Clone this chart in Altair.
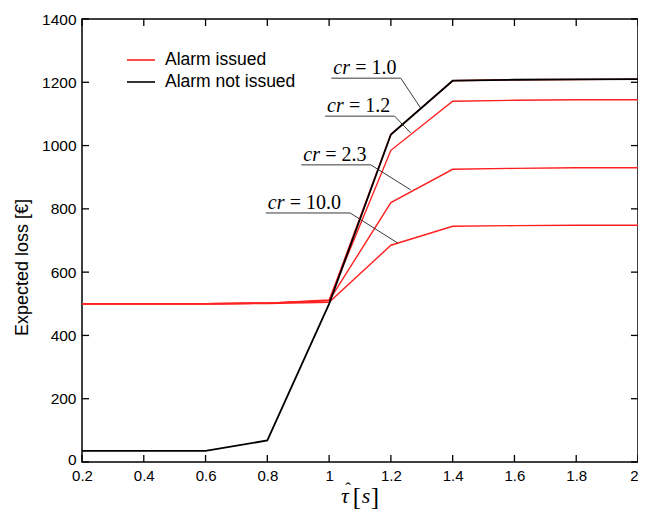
import altair as alt
import pandas as pd

# ---- data ----
tau = [0.2, 0.4, 0.6, 0.8, 1.0, 1.2, 1.4, 1.6, 1.8, 2.0]
loss_not_issued = [35, 35, 35, 68, 500, 1035, 1205, 1208, 1209, 1210]
loss_cr_1_0 = [500, 500, 500, 502, 510, 1035, 1205, 1208, 1209, 1210]
loss_cr_1_2 = [500, 500, 500, 502, 512, 985, 1140, 1143, 1145, 1145]
loss_cr_2_3 = [500, 500, 500, 502, 510, 820, 925, 928, 930, 930]
loss_cr_10_0 = [500, 500, 500, 501, 505, 685, 745, 747, 748, 748]

series_labels = ["Alarm issued", "Alarm not issued"]
series_colors = ["#ff2020", "#000000"]

cr_labels = ["= 1.0", "= 1.2", "= 2.3", "= 10.0"]
# annotation geometry in data units (underline start/end, level, target point)
ann_x0 = [1.007, 0.987, 0.910, 0.795]
ann_x1 = [1.232, 1.212, 1.135, 1.068]
ann_y = [1213, 1093, 939, 787]
ann_px = [1.296, 1.264, 1.264, 1.222]
ann_py = [1119, 1040, 860, 692]

x_ticks = [0.2, 0.4, 0.6, 0.8, 1.0, 1.2, 1.4, 1.6, 1.8, 2.0]
y_ticks = [0, 200, 400, 600, 800, 1000, 1200, 1400]

# ---- tables ----
red_rows = []
for name, vals in [("1.0", loss_cr_1_0), ("1.2", loss_cr_1_2), ("2.3", loss_cr_2_3), ("10.0", loss_cr_10_0)]:
    for t, v in zip(tau, vals):
        red_rows.append({"tau": t, "loss": v, "cr": name, "status": series_labels[0]})
red_df = pd.DataFrame(red_rows)
black_df = pd.DataFrame({"tau": tau, "loss": loss_not_issued, "status": series_labels[1]})
ann_df = pd.DataFrame({"x0": ann_x0, "x1": ann_x1, "y": ann_y, "px": ann_px, "py": ann_py, "lab": cr_labels})
xt_df = pd.DataFrame({"t": x_ticks})
yt_df = pd.DataFrame({"t": y_ticks})

W, H = 556, 443
xs = alt.Scale(domain=[0.2, 2.0], nice=False, zero=False)
ys = alt.Scale(domain=[0, 1400], nice=False, zero=False)
cs = alt.Scale(domain=series_labels, range=series_colors)

x_axis = alt.Axis(values=x_ticks, format="~g", ticks=False, domain=False, grid=False,
                  labelFont="Liberation Sans", labelFontSize=15, labelColor="black",
                  labelPadding=6, title=None, labelFlush=False,
                  labelAlign=alt.expr("datum.value >= 2 ? 'right' : 'center'"))
y_axis = alt.Axis(values=y_ticks, format="d", ticks=False, domain=False, grid=False,
                  labelFont="Liberation Sans", labelFontSize=15.5, labelColor="black",
                  labelPadding=6, title="Expected loss [€]", titleFont="Liberation Sans",
                  titleFontWeight="normal", titleFontSize=18, titleColor="black",
                  titleX=-60, titleY=248, titleBaseline="middle", labelFlush=False,
                  labelOffset=alt.expr("datum.value == 0 ? -3 : 0"))

red = alt.Chart(red_df).mark_line(strokeWidth=1.4).encode(
    x=alt.X("tau:Q", scale=xs, axis=x_axis),
    y=alt.Y("loss:Q", scale=ys, axis=y_axis),
    color=alt.Color("status:N", scale=cs, legend=None),
    detail="cr:N",
)
black = alt.Chart(black_df).mark_line(strokeWidth=1.8).encode(
    x=alt.X("tau:Q", scale=xs),
    y=alt.Y("loss:Q", scale=ys),
    color=alt.Color("status:N", scale=cs, legend=None),
)

under = alt.Chart(ann_df).mark_rule(color="#222", strokeWidth=0.9).encode(
    x=alt.X("x0:Q", scale=xs), x2="x1:Q", y=alt.Y("y:Q", scale=ys), y2="y:Q")
leader = alt.Chart(ann_df).mark_rule(color="#222", strokeWidth=0.9).encode(
    x=alt.X("x1:Q", scale=xs), x2="px:Q", y=alt.Y("y:Q", scale=ys), y2="py:Q")
cr_txt = alt.Chart(ann_df).mark_text(align="left", baseline="alphabetic", dx=2, dy=-4,
                                     font="Liberation Serif", fontStyle="italic",
                                     fontSize=20, color="black").encode(
    x=alt.X("x0:Q", scale=xs), y=alt.Y("y:Q", scale=ys), text=alt.value("cr"))
eq_txt = alt.Chart(ann_df).mark_text(align="left", baseline="alphabetic", dx=24, dy=-4,
                                     font="Liberation Serif", fontSize=20,
                                     color="black").encode(
    x=alt.X("x0:Q", scale=xs), y=alt.Y("y:Q", scale=ys), text="lab:N")

# inward ticks on all four sides
tick_style = dict(color="black", strokeWidth=1.3)
xb = alt.Chart(xt_df).mark_rule(**tick_style).encode(
    x=alt.X("t:Q", scale=xs), y=alt.value(H), y2=alt.value(H - 7))
xtp = alt.Chart(xt_df).mark_rule(**tick_style).encode(
    x=alt.X("t:Q", scale=xs), y=alt.value(0), y2=alt.value(7))
yl = alt.Chart(yt_df).mark_rule(**tick_style).encode(
    y=alt.Y("t:Q", scale=ys), x=alt.value(0), x2=alt.value(7))
yr = alt.Chart(yt_df).mark_rule(**tick_style).encode(
    y=alt.Y("t:Q", scale=ys), x=alt.value(W), x2=alt.value(W - 7))

# legend drawn inside the plot
leg_layers = []
for i, (lab, col) in enumerate(zip(series_labels, series_colors)):
    d = pd.DataFrame({"label": [lab]})
    yy = 41 + i * 22
    leg_layers.append(alt.Chart(d).mark_rule(color=col, strokeWidth=1.6).encode(
        x=alt.value(45), x2=alt.value(73), y=alt.value(yy)))
    leg_layers.append(alt.Chart(d).mark_text(align="left", baseline="middle",
                                             font="Liberation Sans", fontSize=17.5,
                                             color="black").encode(
        x=alt.value(83), y=alt.value(yy), text="label:N"))

# x-axis title  τ̂ [s]  built from pieces (italic symbols, upright brackets)
title_parts = [
    ("τ", 263, 484, 22, "italic"),
    ("ˆ", 266, 475, 17, "normal"),
    ("[", 275, 486, 25, "normal"),
    ("s", 284, 484, 22, "italic"),
    ("]", 293, 486, 25, "normal"),
]
title_layers = []
for txt, px, py, fs, st in title_parts:
    title_layers.append(alt.Chart(pd.DataFrame({"s": [txt]})).mark_text(
        align="center", baseline="alphabetic", font="Liberation Serif",
        fontSize=fs, fontStyle=st, color="black").encode(
        x=alt.value(px), y=alt.value(py), text="s:N"))

chart = alt.layer(red, black, under, leader, cr_txt, eq_txt, xb, xtp, yl, yr,
                  *leg_layers, *title_layers).properties(
    width=W, height=H,
    autosize=alt.AutoSizeParams(type="none"),
    padding={"left": 74, "top": 11, "right": 0, "bottom": 50},
    background="white",
).configure_view(stroke="black", strokeWidth=1.5)

chart.save("out.html", embed_options={"renderer": "svg", "actions": False})
